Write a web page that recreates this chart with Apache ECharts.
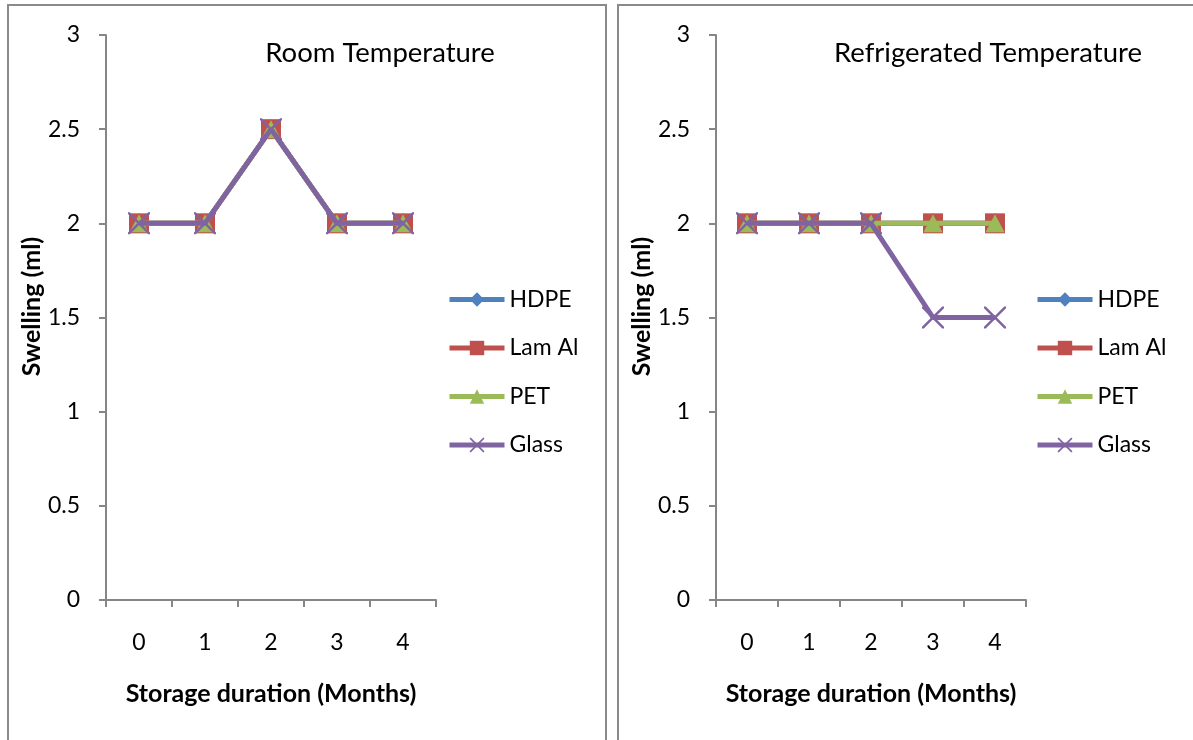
<!DOCTYPE html>
<html><head><meta charset="utf-8">
<script src="https://cdn.jsdelivr.net/npm/echarts@6/dist/echarts.min.js"></script>
<style>html,body{margin:0;padding:0;background:#fff}#c{width:1193px;height:740px}</style>
</head><body><div id="c"></div>
<script>
const months = ['0','1','2','3','4'];
const seriesNames = ['HDPE','Lam Al','PET','Glass'];
const roomHDPE = [2,2,2.5,2,2];
const roomLamAl = [2,2,2.5,2,2];
const roomPET = [2,2,2.5,2,2];
const roomGlass = [2,2,2.5,2,2];
const fridgeHDPE = [2,2,2,2,2];
const fridgeLamAl = [2,2,2,2,2];
const fridgePET = [2,2,2,2,2];
const fridgeGlass = [2,2,2,1.5,1.5];
const yTicks = {min:0, max:3, interval:0.5};

const colors = ['#4F81BD','#C0504D','#9BBB59','#8064A2'];
const xPath = 'path://M0,0 L1.6,0 L10,8.4 L18.4,0 L20,0 L20,1.6 L11.6,10 L20,18.4 L20,20 L18.4,20 L10,11.6 L1.6,20 L0,20 L0,18.4 L8.4,10 L0,1.6 Z';
const symbols = ['diamond','rect','triangle', xPath];
const symSizes = [[18,20],[20,20],[19,18],[22,22]];
const font = 'Lato, Open Sans, sans-serif';
const axisCol = '#868686';

function mkSeries(data, idx, gi){
  return {
    type:'line', name:seriesNames[idx], data:data, xAxisIndex:gi, yAxisIndex:gi,
    symbol:symbols[idx], symbolSize:symSizes[idx], showAllSymbol:true,
    itemStyle:{color:colors[idx]},
    lineStyle:{color:colors[idx], width:5},
    emphasis:{disabled:true}, animation:false, z:2+idx
  };
}
function xAx(gi){
  return {type:'category', gridIndex:gi, data:months, boundaryGap:true,
    axisLine:{lineStyle:{color:axisCol,width:2}},
    axisTick:{show:true, length:7, lineStyle:{color:axisCol,width:2}},
    axisLabel:{color:'#000', fontSize:23, fontFamily:font, margin:31},
    name:'Storage duration (Months)', nameLocation:'middle', nameGap:81,
    nameTextStyle:{color:'#000', fontSize:25, fontWeight:'bold', fontFamily:font}};
}
function yAx(gi){
  return {type:'value', gridIndex:gi, min:yTicks.min, max:yTicks.max, interval:yTicks.interval,
    splitLine:{show:false},
    axisLine:{show:true, lineStyle:{color:axisCol,width:2}},
    axisTick:{show:true, length:7, lineStyle:{color:axisCol,width:2}},
    axisLabel:{color:'#000', fontSize:23, fontFamily:font, margin:26},
    name:'Swelling (ml)', nameLocation:'middle', nameGap:62, nameRotate:90, nameMoveOverlap:false,
    nameTextStyle:{color:'#000', fontSize:25, fontWeight:'bold', fontFamily:font, padding:[0,0,0,22]}};
}
const legTxt = {color:'#000', fontSize:23, fontFamily:font};
const legCommon = {orient:'vertical', top:288, padding:0, itemWidth:55, itemHeight:18, itemGap:25.5, textStyle:legTxt, data:seriesNames, selectedMode:false, lineStyle:{width:5}};
const chart = echarts.init(document.getElementById('c'));
chart.setOption({
  backgroundColor:'#fff',
  animation:false,
  title:[
    {text:'Room Temperature', left:375, top:34, textAlign:'center', textStyle:{fontSize:27.5, fontWeight:'normal', color:'#000', fontFamily:font}},
    {text:'Refrigerated Temperature', left:983, top:34, textAlign:'center', textStyle:{fontSize:27.5, fontWeight:'normal', color:'#000', fontFamily:font}}
  ],
  graphic:[
    {type:'rect', shape:{x:8, y:5, width:598, height:760}, style:{fill:'none', stroke:'#8a8a8a', lineWidth:2}, silent:true},
    {type:'rect', shape:{x:618, y:5, width:600, height:760}, style:{fill:'none', stroke:'#8a8a8a', lineWidth:2}, silent:true}
  ],
  grid:[
    {left:106, top:35, width:330, height:565},
    {left:716, top:35, width:310, height:565}
  ],
  xAxis:[xAx(0), xAx(1)],
  yAxis:[yAx(0), yAx(1)],
  legend:[
    Object.assign({left:447}, legCommon),
    Object.assign({left:1035}, legCommon)
  ],
  series:[
    mkSeries(roomHDPE,0,0), mkSeries(roomLamAl,1,0), mkSeries(roomPET,2,0), mkSeries(roomGlass,3,0),
    mkSeries(fridgeHDPE,0,1), mkSeries(fridgeLamAl,1,1), mkSeries(fridgePET,2,1), mkSeries(fridgeGlass,3,1)
  ]
});
</script></body></html>
